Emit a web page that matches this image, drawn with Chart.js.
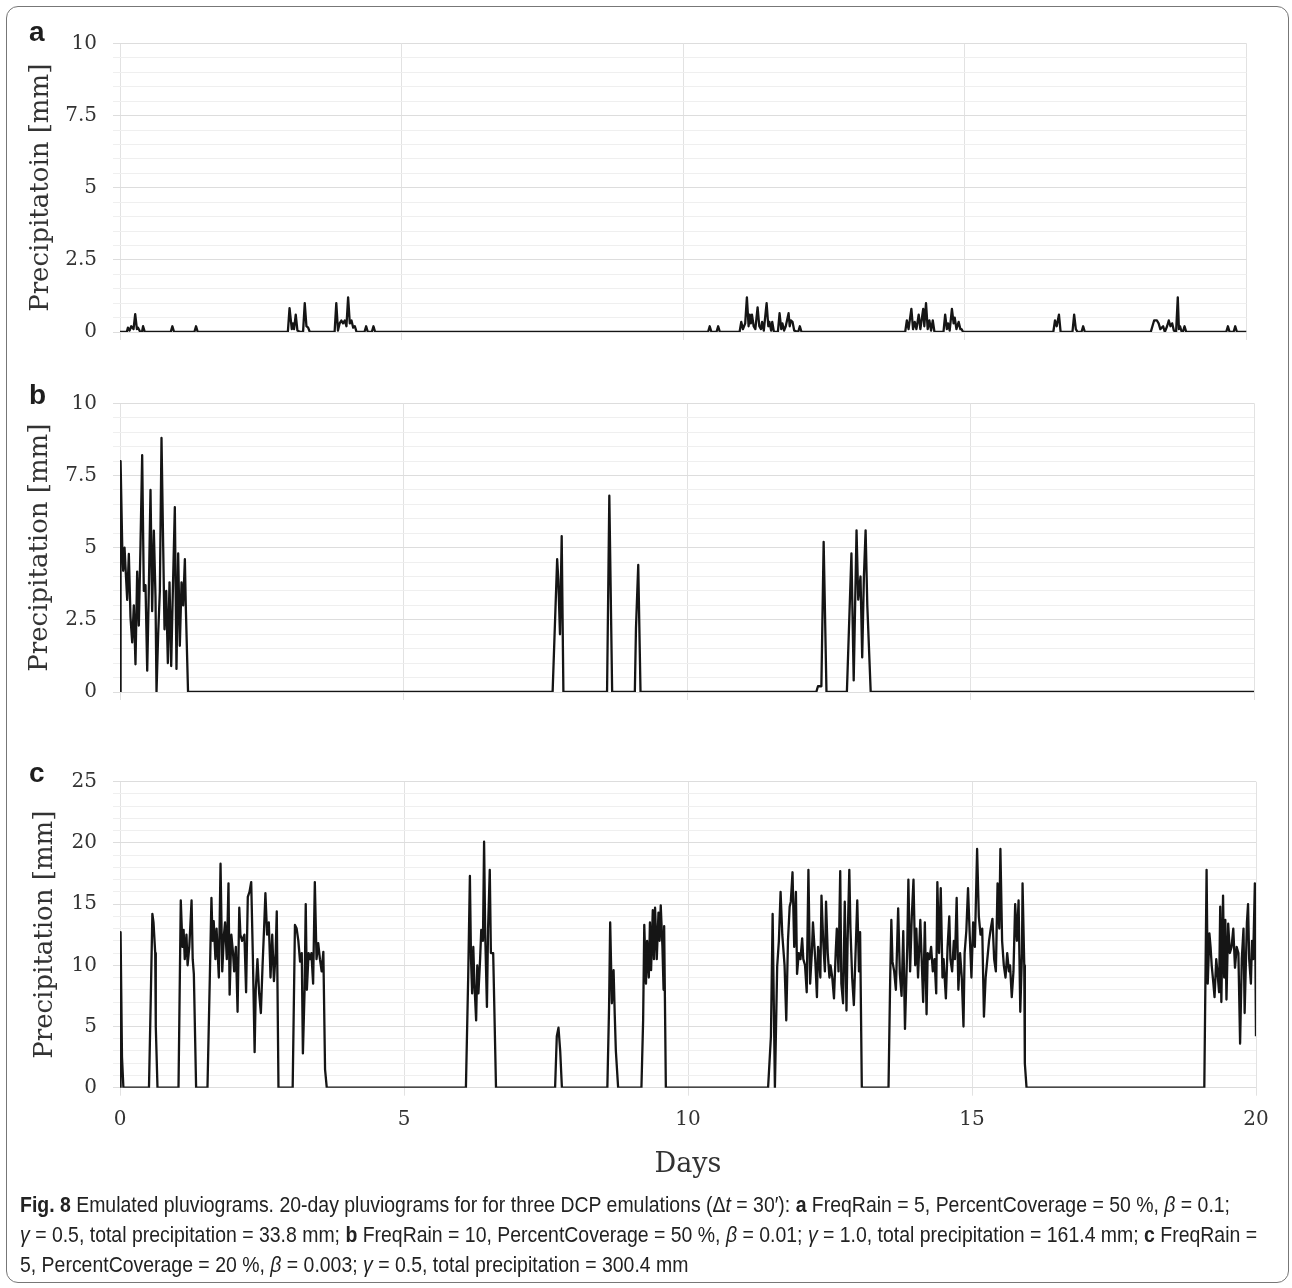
<!DOCTYPE html>
<html>
<head>
<meta charset="utf-8">
<script src="https://cdn.jsdelivr.net/npm/chart.js@4.4.0/dist/chart.umd.min.js"></script>
<style>
  body { margin: 0; background: #fff; width: 1292px; height: 1288px; position: relative; overflow: hidden; }
  .frame { position: absolute; left: 6px; top: 6px; width: 1283px; height: 1277px; border: 1.5px solid #777; border-radius: 12px; box-sizing: border-box; }
  canvas { position: absolute; left: 0; }
  .tag { position: absolute; left: 29px; font: bold 28px "Liberation Sans", Arial, sans-serif; line-height: 28px; color: #1e1e1e; }
  .caption { position: absolute; left: 20px; top: 1190px; font-family: "Liberation Sans", Arial, sans-serif; font-size: 22px; line-height: 30px; white-space: nowrap; color: #222; transform-origin: 0 0; }
  .caption span { display: inline-block; }
</style>
</head>
<body>
<div class="frame"></div>
<canvas id="chartA" width="1292" height="360" style="top:0"></canvas>
<canvas id="chartB" width="1292" height="360" style="top:360px"></canvas>
<canvas id="chartC" width="1292" height="480" style="top:720px"></canvas>
<div class="tag" style="top:18px">a</div>
<div class="tag" style="top:381px">b</div>
<div class="tag" style="top:759px">c</div>
<div class="caption" id="caption">
<span id="cap1"><b>Fig. 8</b> Emulated pluviograms. 20-day pluviograms for for three DCP emulations (Δ<i>t</i> = 30′): <b>a</b> FreqRain = 5, PercentCoverage = 50 %, <i>β</i> = 0.1;</span><br>
<span><i>γ</i> = 0.5, total precipitation = 33.8 mm; <b>b</b> FreqRain = 10, PercentCoverage = 50 %, <i>β</i> = 0.01; <i>γ</i> = 1.0, total precipitation = 161.4 mm; <b>c</b> FreqRain =</span><br>
<span>5, PercentCoverage = 20 %, <i>β</i> = 0.003; <i>γ</i> = 0.5, total precipitation = 300.4 mm</span>
</div>
<script>
// x axis (days) and y tick labels
const dayTicks = ['0', '5', '10', '15', '20'];
const ticksAB = ['0', '2.5', '5', '7.5', '10'];
const ticksC = ['0', '5', '10', '15', '20', '25'];

// [day, precipitation mm]
const rainA = [
  [0, 0], [0.12, 0], [0.14, 0.15], [0.17, 0.05], [0.2, 0.2], [0.24, 0.1], [0.27, 0.62], [0.3, 0.1], [0.32, 0.15], [0.36, 0],
  [0.39, 0], [0.41, 0.2], [0.44, 0], [0.9, 0], [0.93, 0.2], [0.96, 0], [1.32, 0], [1.35, 0.2], [1.38, 0],
  [2.98, 0], [3.01, 0.83], [3.05, 0.1], [3.07, 0.3], [3.09, 0.1], [3.12, 0.6], [3.15, 0.05], [3.2, 0], [3.25, 0], [3.28, 1.0],
  [3.31, 0.2], [3.34, 0.15], [3.37, 0],
  [3.81, 0], [3.84, 1.0], [3.87, 0.05], [3.9, 0.3], [3.93, 0.4], [3.96, 0.3], [3.99, 0.4], [4.02, 0.2], [4.05, 1.2], [4.08, 0.3],
  [4.11, 0.4], [4.14, 0.15], [4.17, 0.2], [4.2, 0], [4.34, 0], [4.37, 0.2], [4.4, 0], [4.47, 0], [4.5, 0.2], [4.53, 0],
  [10.44, 0], [10.47, 0.2], [10.5, 0], [10.59, 0], [10.62, 0.2], [10.65, 0],
  [11.0, 0], [11.03, 0.35], [11.06, 0.1], [11.1, 0.3], [11.13, 1.2], [11.16, 0.2], [11.18, 0.6], [11.2, 0.3], [11.22, 0.6],
  [11.25, 0.2], [11.28, 0.1], [11.32, 0.85], [11.35, 0.2], [11.38, 0.1], [11.4, 0.35], [11.43, 0.05], [11.48, 1.0], [11.51, 0.2],
  [11.53, 0.35], [11.56, 0.05], [11.58, 0.35], [11.61, 0], [11.68, 0], [11.71, 0.65], [11.74, 0.1], [11.76, 0.3], [11.79, 0.05],
  [11.82, 0.2], [11.87, 0.65], [11.89, 0.2], [11.91, 0.4], [11.94, 0.35], [11.97, 0.05], [12.04, 0], [12.07, 0.2], [12.1, 0],
  [13.94, 0], [13.97, 0.4], [14.0, 0.1], [14.05, 0.8], [14.08, 0.1], [14.11, 0.35], [14.14, 0.1], [14.18, 0.6], [14.21, 0.1],
  [14.26, 0.8], [14.28, 0.2], [14.31, 1.0], [14.34, 0.1], [14.37, 0.4], [14.4, 0.05], [14.43, 0.4], [14.46, 0], [14.62, 0],
  [14.65, 0.6], [14.68, 0.1], [14.7, 0.3], [14.73, 0.05], [14.77, 0.8], [14.8, 0.3], [14.82, 0.5], [14.85, 0.1], [14.89, 0.35],
  [14.92, 0.1], [14.94, 0.1], [14.97, 0],
  [16.57, 0], [16.6, 0.4], [16.63, 0.2], [16.67, 0.6], [16.7, 0], [16.91, 0], [16.94, 0.6], [16.97, 0.1], [17.0, 0],
  [17.07, 0], [17.1, 0.2], [17.13, 0],
  [18.3, 0], [18.33, 0.2], [18.36, 0.4], [18.41, 0.4], [18.44, 0.3], [18.47, 0.1], [18.52, 0.2], [18.55, 0], [18.59, 0.2],
  [18.62, 0.4], [18.65, 0.2], [18.68, 0.3], [18.71, 0.05], [18.75, 0], [18.78, 1.2], [18.8, 0.1], [18.82, 0.2], [18.85, 0],
  [18.87, 0], [18.9, 0.2], [18.93, 0],
  [19.64, 0], [19.67, 0.2], [19.7, 0], [19.77, 0], [19.8, 0.2], [19.83, 0], [20, 0]
];

const rainB = [
  [0, 0], [0.01, 8.0], [0.04, 5.0], [0.056, 4.2], [0.08, 5.0], [0.097, 4.33], [0.127, 3.19], [0.156, 4.78], [0.185, 2.59],
  [0.215, 1.72], [0.244, 3.0], [0.273, 0.96], [0.303, 4.17], [0.332, 2.3], [0.362, 5.15], [0.391, 8.2], [0.42, 3.5],
  [0.45, 3.7], [0.48, 0.74], [0.508, 3.5], [0.538, 7.0], [0.567, 2.8], [0.597, 5.59], [0.626, 3.3], [0.644, 0], [0.673, 2.0],
  [0.703, 3.5], [0.732, 8.8], [0.762, 5.0], [0.785, 2.17], [0.815, 3.5], [0.844, 1.0], [0.873, 3.8], [0.903, 0.9],
  [0.932, 3.5], [0.967, 6.4], [0.996, 0.8], [1.026, 4.8], [1.055, 1.6], [1.085, 3.8], [1.114, 3.0], [1.144, 4.6],
  [1.16, 3.0], [1.2, 0],
  [7.63, 0], [7.71, 4.6], [7.73, 3.9], [7.76, 2.0], [7.79, 5.4], [7.82, 0],
  [8.59, 0], [8.63, 6.8], [8.68, 0],
  [9.08, 0], [9.1, 2.2], [9.14, 4.4], [9.18, 0],
  [12.28, 0], [12.31, 0.2], [12.37, 0.2], [12.41, 5.2], [12.46, 0],
  [12.82, 0], [12.9, 4.8], [12.94, 0.4], [12.99, 5.6], [13.02, 3.2], [13.06, 4.0], [13.09, 1.2], [13.12, 4.0], [13.15, 5.6],
  [13.18, 3.0], [13.24, 0], [20, 0]
];

const rainC = [
  [0, 0], [0.01, 12.7], [0.035, 2.5], [0.06, 0],
  [0.51, 0], [0.54, 6.9], [0.57, 14.2], [0.59, 13.5], [0.62, 11], [0.63, 5], [0.66, 0],
  [1.03, 0], [1.07, 15.3], [1.1, 11.5], [1.12, 12.9], [1.14, 10.5], [1.17, 12.5], [1.19, 10.0], [1.22, 11.5], [1.26, 15.3],
  [1.28, 10.5], [1.3, 9.3], [1.34, 0],
  [1.54, 0], [1.58, 8.7], [1.61, 15.5], [1.63, 12], [1.65, 13.6], [1.68, 10.5], [1.7, 13], [1.74, 9], [1.77, 18.3], [1.8, 9.5],
  [1.83, 12.5], [1.85, 13.5], [1.88, 10.5], [1.91, 16.7], [1.93, 7.6], [1.96, 12.5], [1.99, 11], [2.01, 9.5], [2.04, 11.5],
  [2.07, 6.2], [2.1, 14.7], [2.12, 12.5], [2.15, 12], [2.19, 12.5], [2.22, 7.8], [2.25, 15.6], [2.28, 16.0], [2.31, 16.8],
  [2.34, 10.5], [2.37, 2.9], [2.39, 8], [2.42, 10.5], [2.45, 7.7], [2.48, 6.1], [2.51, 10.0], [2.54, 13.4], [2.56, 15.9],
  [2.59, 12.5], [2.62, 13.5], [2.65, 9], [2.68, 12.5], [2.71, 8.7], [2.74, 11], [2.76, 14.4], [2.79, 0],
  [3.04, 0], [3.08, 13.3], [3.11, 13.0], [3.14, 12], [3.17, 10.3], [3.2, 11], [3.22, 2.8], [3.25, 8], [3.27, 15.0], [3.29, 8.0],
  [3.32, 11], [3.35, 10.5], [3.37, 11], [3.4, 8.5], [3.43, 16.8], [3.46, 10.5], [3.49, 11.8], [3.52, 10.5], [3.55, 9.5],
  [3.58, 11.1], [3.61, 1.5], [3.64, 0],
  [6.09, 0], [6.13, 9], [6.16, 17.3], [6.18, 10.5], [6.2, 7.7], [6.22, 11.5], [6.24, 8.5], [6.27, 5.5], [6.29, 10.0], [6.31, 7.7],
  [6.34, 10.5], [6.36, 12.9], [6.39, 12], [6.41, 20.1], [6.43, 12.5], [6.46, 6.6], [6.48, 13], [6.51, 17.8], [6.53, 11],
  [6.55, 11.0], [6.57, 11.0], [6.62, 0],
  [7.66, 0], [7.69, 4.2], [7.72, 4.9], [7.75, 3], [7.78, 0],
  [8.58, 0], [8.61, 6.5], [8.63, 13.5], [8.66, 6.9], [8.69, 9.6], [8.71, 6.0], [8.73, 3], [8.77, 0],
  [9.18, 0], [9.21, 5.5], [9.23, 13.3], [9.26, 8.5], [9.28, 12], [9.31, 9], [9.33, 13.5], [9.35, 9.6], [9.38, 14.5],
  [9.4, 10.5], [9.42, 14.7], [9.45, 10.5], [9.48, 14.3], [9.5, 12], [9.52, 14.9], [9.55, 11.5], [9.57, 8.0], [9.58, 13.2],
  [9.61, 0],
  [11.41, 0], [11.46, 4.2], [11.49, 14.2], [11.53, 0], [11.57, 9.9], [11.6, 12], [11.63, 16.0], [11.66, 12.5], [11.7, 10],
  [11.73, 5.5], [11.76, 12], [11.79, 14.8], [11.81, 15.2], [11.84, 17.6], [11.87, 11.5], [11.9, 16], [11.92, 9.3], [11.95, 11],
  [11.98, 10.5], [12.01, 12.2], [12.03, 10.5], [12.06, 10], [12.09, 7.8], [12.12, 17.8], [12.15, 8.5], [12.18, 11], [12.2, 13.5],
  [12.24, 10.5], [12.27, 7.4], [12.29, 11.5], [12.31, 10.5], [12.33, 9], [12.35, 15.7], [12.38, 12], [12.41, 9.5], [12.43, 15.2],
  [12.46, 11], [12.49, 9], [12.51, 10], [12.54, 9.0], [12.57, 7.3], [12.6, 11], [12.62, 13], [12.65, 9.5], [12.68, 17.7],
  [12.7, 8.5], [12.73, 6.9], [12.76, 15.2], [12.79, 6.3], [12.81, 12], [12.84, 17.8], [12.86, 13], [12.89, 9], [12.92, 6.75],
  [12.95, 11], [12.98, 15.3], [13.01, 9.5], [13.03, 12.7], [13.06, 0],
  [13.53, 0], [13.56, 9], [13.58, 13.7], [13.6, 10.3], [13.63, 9.5], [13.66, 8], [13.7, 14.65], [13.73, 9.3], [13.76, 7.5],
  [13.79, 12.8], [13.82, 4.8], [13.86, 11.5], [13.88, 17.0], [13.91, 9.5], [13.94, 14], [13.97, 17.0], [14.0, 10], [14.02, 13],
  [14.05, 9], [14.09, 13.7], [14.11, 11], [14.14, 7], [14.17, 13.5], [14.2, 6.0], [14.22, 11], [14.25, 10.5], [14.28, 11.5],
  [14.31, 9.5], [14.34, 10.5], [14.37, 7.7], [14.39, 16.8], [14.42, 11], [14.45, 16.3], [14.48, 9.0], [14.5, 10.5], [14.54, 7.3],
  [14.57, 11.5], [14.6, 14.0], [14.62, 10.5], [14.65, 9.5], [14.68, 12], [14.7, 10.5], [14.73, 15.5], [14.76, 8], [14.79, 11],
  [14.82, 9], [14.85, 5.0], [14.87, 11], [14.9, 12.8], [14.93, 16.3], [14.96, 12.5], [14.99, 9], [15.02, 13.5], [15.05, 11.5],
  [15.09, 19.5], [15.12, 14], [15.15, 12.5], [15.18, 13], [15.21, 5.8], [15.24, 9.0], [15.27, 10.5], [15.3, 12], [15.33, 13.0],
  [15.36, 13.8], [15.39, 10.5], [15.42, 9.5], [15.45, 16.7], [15.48, 13], [15.5, 19.5], [15.53, 12], [15.56, 10], [15.59, 9],
  [15.62, 11], [15.65, 9.5], [15.67, 10], [15.7, 7.4], [15.73, 9.5], [15.76, 15.0], [15.79, 12], [15.82, 15.3], [15.85, 6.2],
  [15.88, 11], [15.89, 16.7], [15.92, 10.0], [15.93, 2], [15.96, 0],
  [19.09, 0], [19.13, 17.8], [19.15, 8.5], [19.18, 12.6], [19.2, 11.5], [19.22, 10], [19.25, 8.5], [19.27, 7.4], [19.3, 10.5],
  [19.32, 9.5], [19.35, 7.8], [19.37, 14.8], [19.39, 7.0], [19.42, 15.7], [19.44, 9.0], [19.46, 13.7], [19.48, 7.2],
  [19.51, 13.4], [19.54, 11], [19.57, 11.5], [19.6, 13.0], [19.63, 9.8], [19.66, 11.5], [19.69, 11], [19.72, 3.6], [19.75, 10.5],
  [19.78, 13.0], [19.8, 6.1], [19.84, 13.5], [19.86, 15], [19.88, 10.5], [19.91, 8.5], [19.93, 12], [19.95, 10.5], [19.98, 16.7],
  [20, 4.2]
];

const serif = '"DejaVu Serif", "Liberation Serif", serif';

function makeChart(id, pts, o) {
  const ctx = document.getElementById(id).getContext('2d');
  return new Chart(ctx, {
    type: 'line',
    data: {
      datasets: [{
        data: pts.map(([x, y]) => ({ x, y })),
        borderColor: '#151515',
        borderWidth: 2.3,
        borderJoinStyle: 'round',
        pointRadius: 0,
        tension: 0,
        fill: false
      }]
    },
    options: {
      responsive: false,
      animation: false,
      events: [],
      layout: { padding: { left: 0, right: o.padRight, top: o.padTop, bottom: 0 } },
      plugins: { legend: { display: false }, tooltip: { enabled: false } },
      scales: {
        x: {
          type: 'linear',
          min: 0,
          max: 20,
          border: { display: false },
          grid: { color: '#e2e2e2', lineWidth: 1, tickLength: 8 },
          ticks: {
            display: o.showX,
            stepSize: 5,
            padding: 12,
            color: '#333',
            font: { family: serif, size: 20 },
            callback: v => dayTicks.includes(String(v)) ? String(v) : ''
          },
          title: {
            display: o.showX,
            text: 'Days',
            color: '#333',
            font: { family: serif, size: 27 },
            padding: { top: 0, bottom: 19 }
          },
          afterFit: s => { s.height = o.xHeight; }
        },
        y: {
          min: 0,
          max: o.yMax,
          border: { display: false },
          grid: {
            tickLength: 7,
            lineWidth: 1,
            color: c => (c.tick && Math.abs(c.tick.value % o.major) < 1e-6) ? '#dddddd' : '#efefef'
          },
          ticks: {
            stepSize: o.step,
            autoSkip: false,
            padding: 16,
            color: '#333',
            font: { family: serif, size: 20 },
            callback: v => o.labels.includes(String(v)) ? String(v) : ''
          },
          title: {
            display: true,
            text: o.title,
            color: '#333',
            font: { family: serif, size: 26 },
            padding: { top: o.titlePad, bottom: 0 }
          },
          afterFit: s => { s.width = 120; }
        }
      }
    }
  });
}

makeChart('chartA', rainA, {
  yMax: 10, step: 0.5, major: 2.5, labels: ticksAB, title: 'Precipitatoin [mm]',
  padRight: 45.5, padTop: 43.5, xHeight: 22.3, showX: false, titlePad: 26
});
makeChart('chartB', rainB, {
  yMax: 10, step: 0.5, major: 2.5, labels: ticksAB, title: 'Precipitation [mm]',
  padRight: 38, padTop: 43.3, xHeight: 10.7, showX: false, titlePad: 25
});
makeChart('chartC', rainC, {
  yMax: 25, step: 1, major: 5, labels: ticksC, title: 'Precipitation [mm]',
  padRight: 36, padTop: 61.7, xHeight: 112.3, showX: true, titlePad: 30
});

// squeeze the caption horizontally so line 1 spans the same width as in the figure
const cap = document.getElementById('caption');
const firstLine = document.getElementById('cap1');
const fit = 1210 / firstLine.getBoundingClientRect().width;
cap.style.transform = 'scaleX(' + fit.toFixed(4) + ')';
</script>
</body>
</html>
